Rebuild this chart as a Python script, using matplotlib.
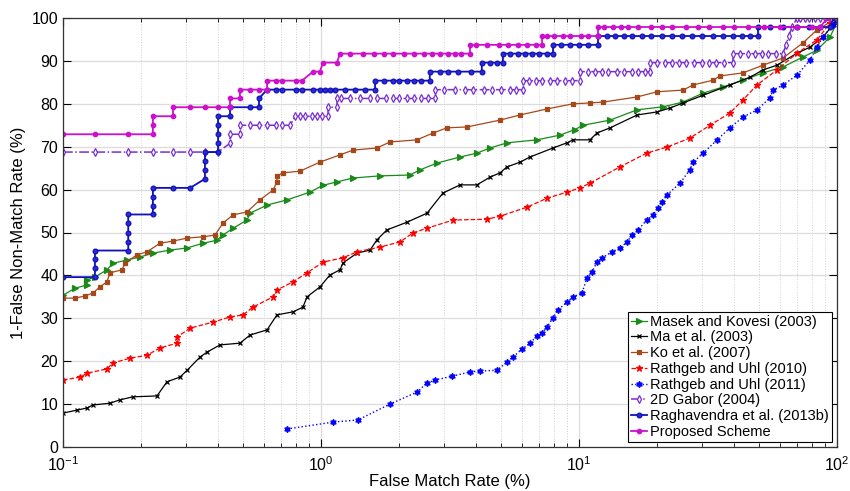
import numpy as np
import matplotlib
matplotlib.use("Agg")
import matplotlib.pyplot as plt

plt.rcParams['font.family'] = ['Liberation Sans', 'DejaVu Sans']

# ROC points (FMR %, 1-FNMR %) for each method
masek = [(0.1, 35.4), (0.1113, 37.0), (0.124, 37.8), (0.124, 39.0), (0.133, 39.6), (0.148, 41.3),
         (0.156, 42.8), (0.177, 43.6), (0.199, 44.3), (0.2233, 45.2), (0.26, 45.9), (0.303, 46.4),
         (0.349, 47.5), (0.395, 48.2), (0.417, 49.4), (0.456, 51.0), (0.517, 52.9), (0.531, 54.5),
         (0.618, 56.4), (0.738, 57.6), (0.906, 59.4), (1.018, 61.0), (1.153, 61.8), (1.33, 62.7),
         (1.69, 63.2), (2.21, 63.4), (2.42, 64.6), (2.82, 66.2), (3.46, 67.6), (4.02, 68.5),
         (4.52, 69.7), (5.26, 70.9), (6.88, 71.6), (8.44, 72.7), (9.65, 74.0), (10.37, 75.0),
         (13.2, 76.2), (16.8, 78.6), (21.2, 79.3), (25.3, 80.4), (30.3, 82.5), (36.1, 83.9),
         (43.2, 85.5), (51.7, 87.2), (61.8, 88.6), (73.8, 90.9), (83.6, 92.5), (94.0, 95.6),
         (100.0, 99.0)]

ma = [(0.1, 7.9), (0.1133, 8.6), (0.124, 9.1), (0.1306, 9.8), (0.152, 10.2), (0.1663, 11.0),
      (0.1868, 11.7), (0.2313, 11.9), (0.253, 15.2), (0.284, 16.3), (0.303, 17.9), (0.34, 21.0),
      (0.3615, 22.1), (0.406, 23.8), (0.485, 24.2), (0.531, 26.1), (0.618, 27.3), (0.675, 30.8),
      (0.779, 31.5), (0.851, 32.6), (0.883, 35.0), (0.99, 37.3), (1.083, 40.1), (1.185, 41.3),
      (1.217, 42.9), (1.379, 45.2), (1.549, 45.9), (1.648, 48.3), (1.80, 50.6), (2.154, 52.4),
      (2.576, 54.5), (2.97, 59.2), (3.46, 61.1), (4.02, 61.1), (4.52, 62.9), (4.94, 63.9),
      (5.26, 65.3), (5.91, 66.4), (6.46, 67.6), (7.93, 69.7), (8.98, 70.9), (9.48, 71.6),
      (11.03, 71.6), (11.74, 73.2), (13.2, 74.4), (16.8, 77.4), (20.06, 78.1), (22.5, 79.0),
      (25.3, 80.2), (30.3, 82.0), (38.5, 84.4), (46.0, 86.2), (51.7, 87.9), (58.5, 89.0),
      (70.0, 91.8), (78.6, 93.2), (88.3, 95.6), (100.0, 99.5)]

ko = [(0.1, 34.7), (0.1113, 34.7), (0.1217, 35.2), (0.1306, 35.9), (0.139, 37.3), (0.148, 38.5),
      (0.152, 40.6), (0.1694, 41.3), (0.174, 42.9), (0.1936, 44.8), (0.2117, 45.5), (0.2377, 47.5),
      (0.267, 48.0), (0.303, 48.7), (0.349, 49.0), (0.388, 49.4), (0.417, 52.2), (0.456, 54.1),
      (0.517, 54.8), (0.58, 57.6), (0.652, 59.9), (0.675, 61.8), (0.675, 63.2), (0.712, 63.9),
      (0.829, 64.3), (0.99, 66.4), (1.185, 68.1), (1.33, 69.2), (1.648, 69.7), (1.85, 71.1),
      (2.355, 71.6), (2.72, 73.2), (3.08, 74.4), (3.68, 74.6), (4.94, 76.2), (5.91, 77.4),
      (7.52, 78.8), (9.48, 80.0), (11.03, 80.2), (12.4, 80.4), (16.8, 81.6), (20.06, 82.8),
      (25.3, 83.2), (27.7, 84.4), (33.1, 85.5), (35.2, 86.5), (43.2, 87.2), (51.7, 89.0),
      (61.8, 90.7), (73.8, 94.2), (83.6, 97.2), (100.0, 100.0)]

rathgeb10 = [(0.1, 15.6), (0.1164, 16.3), (0.124, 17.2), (0.148, 18.2), (0.156, 19.6), (0.182, 20.7),
             (0.2117, 21.4), (0.2377, 23.1), (0.2766, 24.2), (0.2766, 25.6), (0.3105, 27.7),
             (0.381, 29.1), (0.4436, 30.3), (0.499, 30.8), (0.545, 32.6), (0.652, 35.0), (0.675, 36.6),
             (0.779, 38.5), (0.883, 40.6), (1.018, 43.1), (1.217, 44.1), (1.379, 45.5), (1.69, 46.6),
             (2.024, 47.8), (2.27, 49.9), (2.576, 51.0), (3.25, 52.9), (4.40, 53.1), (4.94, 53.8),
             (6.29, 55.9), (7.52, 58.0), (8.98, 59.4), (10.09, 60.4), (11.03, 61.5), (14.42, 65.3),
             (18.3, 68.5), (21.9, 69.9), (26.9, 72.0), (32.2, 75.0), (38.5, 77.9), (43.2, 80.9),
             (49.0, 84.4), (58.5, 87.9), (70.0, 91.8), (83.6, 94.9), (94.0, 98.8), (100.0, 100.0)]

rathgeb11 = [(0.738, 4.2), (1.113, 5.8), (1.391, 6.3), (1.85, 10.0), (2.355, 12.8), (2.576, 14.9),
             (2.767, 15.6), (3.22, 16.5), (3.78, 17.5), (4.13, 17.7), (4.81, 17.9), (5.26, 19.8),
             (5.55, 21.0), (6.01, 22.8), (6.46, 24.2), (6.88, 25.9), (7.19, 26.6), (7.52, 28.0),
             (7.93, 30.1), (8.29, 31.9), (8.98, 33.8), (9.48, 35.0), (10.27, 35.9), (10.74, 39.4),
             (11.23, 40.8), (11.74, 43.1), (12.28, 44.1), (13.42, 45.5), (14.42, 46.4), (15.35, 47.8),
             (16.04, 49.4), (16.93, 50.6), (18.3, 52.9), (19.35, 54.1), (20.24, 55.7), (20.98, 57.1),
             (21.9, 58.7), (24.62, 61.5), (26.9, 64.6), (27.7, 66.4), (30.3, 68.5), (34.3, 71.6),
             (38.5, 74.4), (43.2, 76.9), (49.0, 78.6), (55.0, 81.4), (56.5, 83.2), (61.8, 84.4),
             (70.0, 86.7), (78.6, 90.2), (83.6, 93.2), (88.3, 95.6), (96.5, 98.4), (100.0, 99.5)]

gabor = [(0.1, 68.75), (0.133, 68.75), (0.179, 68.75), (0.223, 68.75), (0.267, 68.75), (0.311, 68.75),
         (0.355, 68.75), (0.399, 68.75), (0.444, 70.8), (0.444, 72.9), (0.485, 72.9), (0.485, 75.0),
         (0.531, 75.0), (0.575, 75.0), (0.618, 75.0), (0.67, 75.0), (0.706, 75.0), (0.76, 75.0),
         (0.793, 77.1), (0.83, 77.1), (0.867, 77.1), (0.923, 77.1), (0.965, 77.1), (1.01, 77.1),
         (1.065, 77.1), (1.065, 79.2), (1.154, 79.2), (1.154, 81.25), (1.2, 81.25), (1.3, 81.25),
         (1.42, 81.25), (1.55, 81.25), (1.65, 81.25), (1.78, 81.25), (1.9, 81.25), (2.0, 81.25),
         (2.15, 81.25), (2.3, 81.25), (2.45, 81.25), (2.6, 81.25), (2.77, 81.25), (2.77, 83.3),
         (3.0, 83.3), (3.3, 83.3), (3.6, 83.3), (3.9, 83.3), (4.3, 83.3), (4.6, 83.3), (5.0, 83.3),
         (5.4, 83.3), (5.7, 83.3), (6.07, 83.3), (6.07, 85.4), (6.4, 85.4), (6.8, 85.4), (7.2, 85.4),
         (7.7, 85.4), (8.2, 85.4), (8.8, 85.4), (9.4, 85.4), (10.1, 85.4), (10.1, 87.5), (10.8, 87.5),
         (11.5, 87.5), (12.3, 87.5), (13.0, 87.5), (14.0, 87.5), (15.0, 87.5), (16.0, 87.5),
         (17.0, 87.5), (18.0, 87.5), (18.8, 87.5), (18.8, 89.6), (20.0, 89.6), (21.5, 89.6),
         (23.0, 89.6), (24.5, 89.6), (26.0, 89.6), (28.0, 89.6), (30.0, 89.6), (32.0, 89.6),
         (34.0, 89.6), (36.5, 89.6), (39.5, 89.6), (39.5, 91.7), (42.0, 91.7), (45.0, 91.7),
         (48.0, 91.7), (51.0, 91.7), (54.0, 91.7), (58.0, 91.7), (61.7, 91.7), (63.5, 93.75),
         (65.0, 95.8), (67.0, 97.9), (70.0, 100.0), (72.0, 100.0), (75.0, 100.0), (78.0, 100.0),
         (82.0, 100.0), (86.0, 100.0), (90.0, 100.0), (95.0, 100.0), (100.0, 100.0)]

raghavendra = [(0.1, 39.6), (0.133, 39.6), (0.133, 41.7), (0.133, 43.75), (0.133, 45.8), (0.179, 45.8),
               (0.179, 47.9), (0.179, 50.0), (0.179, 52.1), (0.179, 54.2), (0.223, 54.2), (0.223, 56.25),
               (0.223, 58.3), (0.223, 60.4), (0.267, 60.4), (0.311, 60.4), (0.355, 62.5), (0.355, 64.6),
               (0.355, 66.7), (0.355, 68.75), (0.399, 68.75), (0.399, 70.8), (0.399, 72.9), (0.399, 75.0),
               (0.399, 77.1), (0.444, 77.1), (0.444, 79.2), (0.531, 79.2), (0.575, 79.2), (0.575, 81.25),
               (0.618, 83.3), (0.67, 83.3), (0.706, 83.3), (0.80, 83.3), (0.844, 83.3), (0.931, 83.3),
               (0.99, 83.3), (1.04, 83.3), (1.08, 83.3), (1.133, 83.3), (1.24, 83.3), (1.36, 83.3),
               (1.48, 83.3), (1.62, 83.3), (1.62, 85.4), (1.75, 85.4), (1.9, 85.4), (2.0, 85.4),
               (2.15, 85.4), (2.3, 85.4), (2.45, 85.4), (2.64, 85.4), (2.64, 87.5), (2.9, 87.5),
               (3.1, 87.5), (3.4, 87.5), (3.8, 87.5), (4.2, 87.5), (4.2, 89.6), (4.5, 89.6), (4.8, 89.6),
               (5.07, 89.6), (5.07, 91.7), (5.4, 91.7), (5.8, 91.7), (6.2, 91.7), (6.6, 91.7), (7.0, 91.7),
               (7.5, 91.7), (7.93, 91.7), (7.93, 93.75), (8.5, 93.75), (9.2, 93.75), (10.0, 93.75),
               (10.8, 93.75), (11.85, 93.75), (11.85, 95.8), (12.8, 95.8), (13.8, 95.8), (15.0, 95.8),
               (16.0, 95.8), (17.5, 95.8), (19.0, 95.8), (21.0, 95.8), (23.0, 95.8), (25.0, 95.8),
               (27.5, 95.8), (30.0, 95.8), (33.0, 95.8), (36.0, 95.8), (39.5, 95.8), (43.0, 95.8),
               (46.0, 95.8), (49.4, 95.8), (49.4, 97.9), (55.0, 97.9), (62.0, 97.9), (70.0, 97.9),
               (78.0, 97.9), (86.0, 97.9), (94.0, 97.9), (97.0, 100.0), (100.0, 100.0)]

proposed = [(0.1, 72.9), (0.133, 72.9), (0.179, 72.9), (0.223, 72.9), (0.223, 75.0), (0.223, 77.1),
            (0.267, 77.1), (0.267, 79.2), (0.311, 79.2), (0.355, 79.2), (0.399, 79.2), (0.444, 79.2),
            (0.444, 81.25), (0.485, 81.25), (0.485, 83.3), (0.531, 83.3), (0.575, 83.3), (0.618, 83.3),
            (0.618, 85.4), (0.67, 85.4), (0.706, 85.4), (0.80, 85.4), (0.844, 85.4), (0.931, 87.5),
            (0.99, 87.5), (1.018, 89.6), (1.153, 89.6), (1.185, 91.7), (1.3, 91.7), (1.45, 91.7),
            (1.6, 91.7), (1.75, 91.7), (1.9, 91.7), (2.1, 91.7), (2.3, 91.7), (2.5, 91.7), (2.7, 91.7),
            (2.9, 91.7), (3.1, 91.7), (3.3, 91.7), (3.5, 91.7), (3.78, 91.7), (3.78, 93.75),
            (4.0, 93.75), (4.4, 93.75), (4.9, 93.75), (5.3, 93.75), (5.8, 93.75), (6.3, 93.75),
            (6.8, 93.75), (7.19, 93.75), (7.19, 95.8), (7.5, 95.8), (8.0, 95.8), (8.7, 95.8),
            (9.2, 95.8), (10.2, 95.8), (10.8, 95.8), (11.85, 95.8), (11.85, 97.9), (12.5, 97.9),
            (13.5, 97.9), (14.5, 97.9), (15.5, 97.9), (17.0, 97.9), (19.0, 97.9), (21.0, 97.9),
            (23.0, 97.9), (26.0, 97.9), (29.0, 97.9), (32.0, 97.9), (36.0, 97.9), (40.0, 97.9),
            (45.0, 97.9), (52.0, 97.9), (60.0, 97.9), (70.0, 97.9), (80.0, 97.9), (86.0, 97.9),
            (92.0, 100.0), (100.0, 100.0)]

labels = ['Masek and Kovesi (2003)', 'Ma et al. (2003)', 'Ko et al. (2007)',
          'Rathgeb and Uhl (2010)', 'Rathgeb and Uhl (2011)', '2D Gabor (2004)',
          'Raghavendra et al. (2013b)', 'Proposed Scheme']

series = [masek, ma, ko, rathgeb10, rathgeb11, gabor, raghavendra, proposed]

# color, linestyle, marker, markersize, linewidth, marker face
styles = [
    ('#1a8a1a', '-', '>', 4.0, 0.9, None),
    ('#000000', '-', 'x', 2.8, 0.9, None),
    ('#a5481a', '-', 's', 3.0, 0.9, None),
    ('#ff0000', '--', '*', 5.0, 0.9, None),
    ('#0000ff', ':', (6, 1, 0), 4.5, 1.0, None),
    ('#7a2fcf', '-.', 'd', 3.6, 1.1, 'white'),
    ('#1010bb', '-', 'o', 3.4, 1.3, '#2a2ad0'),
    ('#cc11cc', '-', 'o', 3.2, 1.3, None),
]

fig = plt.figure(figsize=(8.5, 4.91), dpi=100)
ax = fig.add_axes([63 / 850, 44 / 491, 774 / 850, 429 / 491])

for pts, lab, st in zip(series, labels, styles):
    col, ls, mk, ms, lw, face = st
    x, y = np.array(pts).T
    ax.plot(x, y, color=col, ls=ls, marker=mk, ms=ms, lw=lw, label=lab,
            mfc=face if face else col, mec=col, mew=0.9)

ax.set_xscale('log')
ax.set_xlim(0.1, 100)
ax.set_ylim(0, 100)
ax.set_yticks(np.arange(0, 101, 10))

ax.set_axisbelow(True)
ax.grid(which='major', color='#dcdcdc', lw=0.9, ls='-')
ax.grid(which='minor', axis='x', color='#d0d0d0', lw=0.7, ls=':')

ax.tick_params(which='both', direction='in', top=True, right=True, labelsize=11.5)
ax.tick_params(which='major', length=6, width=0.8)
ax.tick_params(which='minor', length=3, width=0.6)
ax.tick_params(axis='x', which='major', pad=6)
for sp in ax.spines.values():
    sp.set_linewidth(0.9)
    sp.set_color('#333333')

ax.set_xlabel('False Match Rate (%)', fontsize=12, labelpad=0)
ax.set_ylabel('1-False Non-Match Rate (%)', fontsize=12, labelpad=4)

leg = ax.legend(loc='lower right', fontsize=10.5, numpoints=1, fancybox=False,
                edgecolor='black', framealpha=1, borderpad=0.2, labelspacing=0.12,
                handlelength=1.1, handletextpad=0.2, borderaxespad=0.35)
leg.get_frame().set_linewidth(0.8)

fig.savefig('out.png', dpi=100)
